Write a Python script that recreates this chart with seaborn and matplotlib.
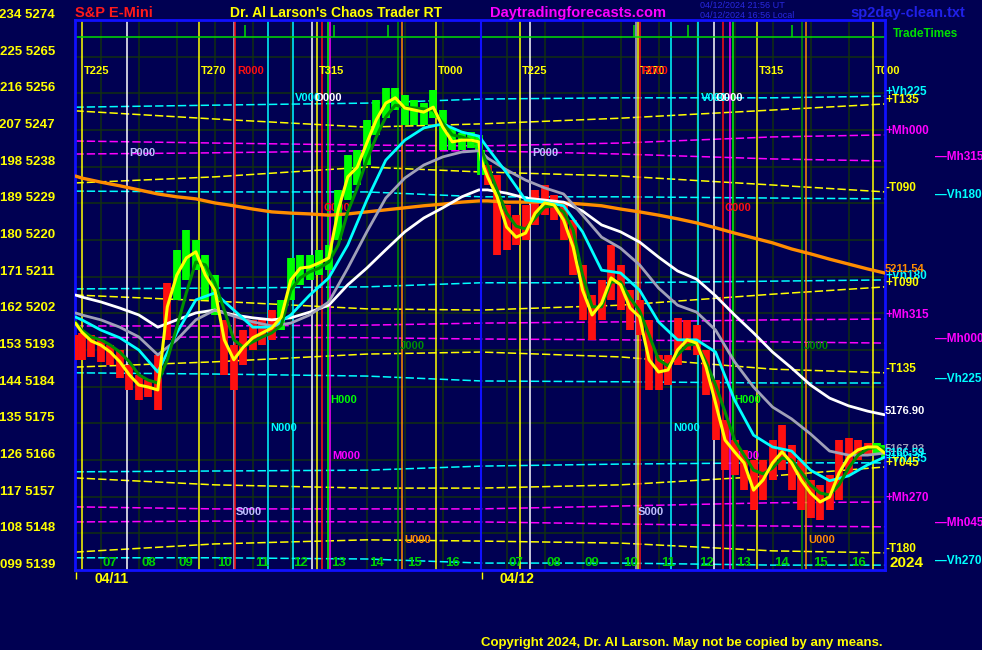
import matplotlib
matplotlib.use("Agg")
import matplotlib.pyplot as plt
import matplotlib.transforms as mtransforms
import pandas as pd
import seaborn as sns

# ---------------------------------------------------------------- time axis
# x = hour of day; the 04/12 session is shifted right by one session width
day_shift = 10.68
x_left = 6.32
x_right = 6.32 + 21.32

bar_hours = [6.33] + [6.5 + 0.25 * k for k in range(42)] + [16.95]
ma_hours = [6.33, 6.5] + [7.0 + 0.5 * k for k in range(20)] + [16.95]
level_hours_d1 = [6.33, 10.0, 14.0]
level_hours_d2 = [6.33, 10.0, 14.0, 16.97]
grid_hours = [7, 8, 9, 10, 11, 12, 13, 14, 15, 16]
hour_labels = ["07", "08", "09", "10", "11", "12", "13", "14", "15", "16"]
date_labels = ["04/11", "04/12"]

# ---------------------------------------------------------------- price data
fast_d1 = [5199.6, 5197.4, 5195.2, 5194.2, 5192.5, 5190.1, 5186.9, 5184.4, 5183.9, 5183.2,
           5203.6, 5211.4, 5215.6, 5217.1, 5211.4, 5207.7, 5195.5, 5190.6, 5193.7, 5196.0,
           5197.2, 5198.4, 5201.1, 5210.2, 5213.1, 5213.4, 5214.4, 5215.6, 5227.4, 5235.5,
           5237.9, 5243.8, 5249.5, 5253.6, 5254.9, 5252.4, 5251.9, 5251.4, 5252.6, 5247.7,
           5244.1, 5244.5, 5244.5, 5244.1]
fast_d2 = [5239.6, 5235.5, 5230.6, 5223.2, 5220.7, 5221.7, 5226.6, 5229.1, 5228.6, 5224.9,
           5218.3, 5207.7, 5201.6, 5204.5, 5210.7, 5209.0, 5203.3, 5201.1, 5190.6, 5187.6,
           5188.1, 5193.0, 5195.5, 5194.7, 5188.8, 5180.0, 5170.9, 5168.0, 5165.3, 5158.6,
           5161.1, 5165.3, 5168.0, 5165.3, 5161.1, 5157.9, 5155.7, 5156.9, 5162.8, 5166.7,
           5168.5, 5169.2, 5169.2, 5167.7]
slow_d1 = [5199.9, 5197.9, 5196.2, 5195.5, 5194.2, 5192.5, 5190.1, 5186.9, 5185.6, 5184.9,
           5190.6, 5198.6, 5207.0, 5214.6, 5213.9, 5209.5, 5202.8, 5195.5, 5193.7, 5195.0,
           5196.2, 5197.2, 5199.1, 5207.7, 5210.7, 5212.2, 5213.1, 5214.6, 5218.8, 5226.9,
           5232.8, 5239.6, 5245.3, 5250.2, 5253.1, 5252.6, 5252.4, 5252.2, 5251.9, 5248.7,
           5245.8, 5245.3, 5244.5, 5244.1]
slow_d2 = [5242.1, 5238.4, 5232.3, 5226.6, 5223.4, 5222.7, 5225.4, 5228.1, 5228.4, 5226.9,
           5222.5, 5211.4, 5203.6, 5203.6, 5209.7, 5209.7, 5205.8, 5202.6, 5196.7, 5190.6,
           5189.1, 5191.8, 5194.2, 5194.5, 5190.1, 5184.4, 5177.8, 5170.9, 5167.2, 5163.5,
           5162.6, 5164.0, 5166.5, 5166.0, 5163.1, 5159.9, 5157.9, 5157.4, 5159.9, 5164.0,
           5167.2, 5168.7, 5169.2, 5168.5]
high_d1 = [5196.7, 5197.2, 5196.7, 5195.5, 5194.2, 5193.0, 5189.3, 5186.9, 5185.6, 5191.8,
           5209.5, 5217.6, 5222.5, 5220.0, 5216.3, 5211.4, 5200.4, 5194.2, 5197.9, 5200.4,
           5200.9, 5202.8, 5205.3, 5215.6, 5216.3, 5216.3, 5217.6, 5218.8, 5232.3, 5240.9,
           5242.1, 5249.5, 5254.4, 5257.3, 5257.3, 5255.6, 5254.4, 5253.6, 5256.8, 5251.9,
           5247.5, 5246.3, 5246.5, 5245.8]
low_d1 = [5190.6, 5190.6, 5191.3, 5190.1, 5189.3, 5186.1, 5183.2, 5180.7, 5181.5, 5178.3,
          5195.5, 5205.3, 5210.2, 5212.6, 5205.3, 5201.6, 5186.9, 5183.2, 5189.3, 5193.0,
          5194.2, 5195.5, 5197.9, 5205.3, 5209.0, 5210.2, 5211.4, 5212.6, 5220.0, 5229.8,
          5233.5, 5238.4, 5245.8, 5250.0, 5251.9, 5248.2, 5248.2, 5248.2, 5250.0, 5242.1,
          5242.1, 5242.1, 5242.6, 5242.1]
high_d2 = [5242.1, 5238.4, 5236.0, 5228.6, 5226.1, 5228.6, 5232.3, 5233.5, 5231.1, 5228.6,
           5224.9, 5213.9, 5206.5, 5210.2, 5218.8, 5213.9, 5207.7, 5205.3, 5200.4, 5191.8,
           5191.8, 5200.9, 5200.4, 5199.1, 5193.0, 5185.6, 5175.8, 5170.9, 5168.5, 5166.0,
           5166.0, 5170.9, 5174.6, 5169.7, 5166.0, 5161.1, 5159.9, 5162.3, 5170.9, 5171.4,
           5170.9, 5170.2, 5170.2, 5169.7]
low_d2 = [5236.0, 5233.5, 5216.3, 5217.6, 5218.8, 5220.0, 5223.7, 5226.1, 5224.9, 5220.0,
          5211.4, 5200.4, 5195.5, 5200.4, 5205.3, 5202.8, 5197.9, 5196.7, 5183.2, 5183.2,
          5184.4, 5189.3, 5193.0, 5191.8, 5182.0, 5170.9, 5163.5, 5162.3, 5158.6, 5153.7,
          5156.2, 5161.1, 5163.5, 5158.6, 5153.7, 5151.8, 5151.3, 5153.7, 5156.2, 5162.3,
          5166.0, 5167.2, 5167.7, 5166.5]
# bar state: g = up (green), r = down (red)
bar_state_d1 = "rrrrrrrrrrrgggggrrrrrrgggggggggggggggggggggg"
bar_state_d2 = "grrrrrrrrrrrrrrrrrrrrrrrrrrrrrrrrrrrrrrrrrgg"

cyan_d1 = [5201.1, 5200.4, 5197.9, 5196.0, 5193.0, 5187.6, 5197.2, 5205.3, 5207.0, 5202.8, 5198.6,
           5198.6, 5201.6, 5206.5, 5210.7, 5218.8, 5229.8, 5239.6, 5244.5, 5247.5, 5248.5, 5246.5, 5245.5]
cyan_d2 = [5244.8, 5242.6, 5236.5, 5229.8, 5229.3, 5228.4, 5222.0, 5212.6, 5211.9, 5207.7, 5199.9,
           5195.5, 5195.5, 5192.5, 5180.7, 5172.1, 5169.2, 5168.2, 5163.5, 5160.9, 5162.1, 5164.8, 5166.7]
gray_d1 = [5202.1, 5201.6, 5200.4, 5198.6, 5196.2, 5191.8, 5195.5, 5200.4, 5202.8, 5201.3, 5199.9,
           5198.9, 5199.6, 5201.6, 5204.8, 5213.1, 5222.0, 5230.3, 5235.2, 5238.4, 5240.4, 5241.6, 5241.9]
gray_d2 = [5241.6, 5240.1, 5237.2, 5234.7, 5232.8, 5231.3, 5226.1, 5220.7, 5218.0, 5213.9, 5208.2,
           5204.0, 5202.3, 5197.9, 5190.1, 5183.9, 5179.0, 5176.1, 5172.4, 5168.2, 5167.2, 5167.2, 5167.7]
white_d1 = [5206.5, 5206.0, 5204.8, 5203.3, 5201.6, 5198.6, 5200.4, 5202.1, 5202.8, 5201.6, 5200.9,
            5200.4, 5200.9, 5202.3, 5204.0, 5209.0, 5213.1, 5217.6, 5222.0, 5225.4, 5227.9, 5230.6, 5232.3]
white_d2 = [5232.3, 5232.3, 5231.5, 5230.3, 5229.8, 5229.3, 5227.1, 5223.7, 5222.0, 5219.5, 5215.8,
            5212.4, 5210.4, 5206.3, 5201.6, 5197.2, 5192.5, 5188.6, 5184.4, 5181.2, 5179.3, 5178.0, 5177.1]
orange_d1 = [5235.7, 5235.2, 5234.2, 5233.3, 5232.3, 5231.3, 5230.6, 5230.1, 5229.1, 5228.4, 5227.6,
             5226.9, 5226.6, 5226.4, 5226.1, 5226.4, 5226.9, 5227.4, 5227.9, 5228.4, 5228.8, 5229.3, 5229.6]
orange_d2 = [5229.6, 5229.6, 5229.3, 5229.3, 5229.3, 5229.1, 5228.8, 5228.4, 5227.6, 5226.9, 5226.1,
             5225.2, 5224.2, 5223.0, 5221.7, 5220.5, 5219.3, 5217.8, 5216.6, 5215.3, 5214.1, 5212.9, 5211.9]
ma_end_labels = {"orange": "5211.54", "white": "5176.90", "gray": "5167.93", "cyan": "5166.59"}

# ---------------------------------------------------------------- harmonic levels (7 nodes)
vh225_p = [5252.6, 5253.1, 5253.6, 5254.6, 5254.9, 5254.9, 5255.3]
vh180_m = [5232.0, 5231.8, 5231.8, 5230.6, 5230.6, 5230.3, 5230.1]
vh180_p = [5208.0, 5208.2, 5208.5, 5209.5, 5209.5, 5209.9, 5210.2]
vh225_m = [5187.4, 5187.1, 5186.6, 5185.4, 5185.2, 5184.9, 5184.9]
vh135_p = [5163.1, 5163.3, 5163.5, 5164.5, 5165.0, 5165.3, 5165.3]
vh270_m = [5142.0, 5142.0, 5141.7, 5140.7, 5140.7, 5140.2, 5140.2]
t135_p = [5251.7, 5249.7, 5247.7, 5248.5, 5249.9, 5251.9, 5253.4]
t090_m = [5234.0, 5235.5, 5237.9, 5236.7, 5235.7, 5233.5, 5231.8]
t090_p = [5206.5, 5205.0, 5203.1, 5202.8, 5204.0, 5206.7, 5208.5]
t135_m = [5188.8, 5190.1, 5192.0, 5192.5, 5191.3, 5188.3, 5187.4]
t045_p = [5161.6, 5159.9, 5159.1, 5159.1, 5159.9, 5162.1, 5164.3]
t180_m = [5143.4, 5145.4, 5146.4, 5146.1, 5145.6, 5143.7, 5143.2]
mh000_p = [5244.3, 5243.8, 5243.3, 5243.1, 5243.8, 5245.3, 5245.8]
mh315_m = [5241.1, 5241.4, 5241.9, 5241.9, 5241.1, 5239.9, 5239.4]
mh315_p = [5198.9, 5198.9, 5199.1, 5199.6, 5199.9, 5200.4, 5200.6]
mh000_m = [5196.0, 5196.2, 5196.0, 5195.7, 5195.5, 5195.0, 5194.7]
mh270_p = [5154.5, 5154.0, 5154.0, 5154.0, 5154.7, 5155.5, 5155.7]
mh045_m = [5150.8, 5151.0, 5150.8, 5150.8, 5150.3, 5149.8, 5149.6]

# ---------------------------------------------------------------- timing events
event_names_d1 = ["T225", "P000", "T270", "S000", "R000", "N000", "V000", "O000",
                  "T315", "C000", "H000", "M000", "J000", "U000", "T000"]
event_hours_d1 = [6.50, 7.69, 9.58, 10.51, 10.53, 11.40, 12.06, 12.56,
                  12.69, 12.82, 12.98, 13.03, 14.82, 14.93, 15.82]
event_names_d2 = ["T225", "P000", "S000", "T270", "R000", "N000", "V000", "O000",
                  "C000", "M000", "H000", "T315", "J000", "U000", "T000"]
event_hours_d2 = [7.34, 7.61, 10.40, 10.45, 10.50, 11.34, 12.05, 12.45,
                  12.69, 12.87, 12.95, 13.58, 14.77, 14.88, 16.64]
trade_hours_d1 = [10.79, 13.14, 14.56]
trade_hours_d2 = [10.35, 11.77, 14.51]
trade_line_price = 5269.8

ytick_prices = [5139, 5148, 5157, 5166, 5175, 5184, 5193, 5202, 5211, 5220, 5229, 5238, 5247, 5256, 5265, 5274]
ytick_degrees = ["099", "108", "117", "126", "135", "144", "153", "162", "171", "180", "189", "198", "207", "216", "225", "234"]

# ---------------------------------------------------------------- style
BG = "#000052"
GRID = "#123012"
BLUE = "#1010ff"
YEL = "#ffff00"
CYAN = "#00ffff"
MAG = "#ff00ff"
RED = "#ff1010"
GREEN = "#00ff00"
DKGREEN = "#009000"
ORANGE = "#ff8c00"
WHITE = "#ffffff"
GRAY = "#a0a0b8"
LAV = "#c0c0ff"

event_line_color = {"T": YEL, "P": WHITE, "S": "#b0b0d0", "R": RED, "N": CYAN, "V": CYAN,
                    "O": WHITE, "C": RED, "H": GREEN, "M": MAG, "J": DKGREEN, "U": ORANGE}
event_text_color = dict(event_line_color, P=LAV, S=LAV)
event_text_y = {"T": 0.907, "R": 0.907, "V": 0.858, "O": 0.858, "P": 0.758, "C": 0.658,
                "J": 0.407, "H": 0.309, "N": 0.258, "M": 0.207, "S": 0.105, "U": 0.055}

sns.set_style("dark", {"axes.facecolor": BG, "figure.facecolor": BG})
plt.rcParams["font.family"] = ["Liberation Sans", "DejaVu Sans"]
plt.rcParams["lines.scale_dashes"] = False

fig = plt.figure(figsize=(9.82, 6.5), dpi=100)
fig.patch.set_facecolor(BG)
ax = fig.add_axes([75 / 982, 80 / 650, 810 / 982, 550 / 650])
ax.set_facecolor(BG)
ax.set_xlim(x_left, x_right)
ax.set_ylim(5139, 5274)

# grid, ticks, frame
grid_x = grid_hours + [h + day_shift for h in grid_hours]
ax.set_xticks(grid_x)
ax.set_yticks(ytick_prices)
ax.grid(True, color=GRID, lw=1.1, zorder=0)
ax.set_axisbelow(True)
ax.tick_params(axis="x", length=7, width=1, color=GRID, labelbottom=False)
ax.tick_params(axis="y", length=4, width=1, color="#00a000", labelleft=False)
for side, spine in ax.spines.items():
    spine.set_color(BLUE)
    spine.set_linewidth(2.0)
    spine.set_visible(True)
ax.axvline(x_left + day_shift, color=BLUE, lw=1.5, zorder=5)

# day start ticks below the axis
xt = ax.get_xaxis_transform()
ax.vlines([x_left + 0.03, x_left + day_shift + 0.03], -0.016, -0.004, transform=xt,
          color=YEL, lw=1, clip_on=False)

# y labels: degree and price
for p, d in zip(ytick_prices, ytick_degrees):
    ax.text(-0.0247, p, f"{d} {p}", transform=mtransforms.offset_copy(
        mtransforms.blended_transform_factory(ax.transAxes, ax.transData), fig, y=5, units="dots"),
        ha="right", va="center", color=YEL, fontsize=9.5, weight="bold")

# harmonic levels
level_x = level_hours_d1 + [h + day_shift for h in level_hours_d2]
levels = [("+Vh225", vh225_p, CYAN), ("—Vh180", vh180_m, CYAN), ("+Vh180", vh180_p, CYAN),
          ("—Vh225", vh225_m, CYAN), ("+Vh135", vh135_p, CYAN), ("—Vh270", vh270_m, CYAN),
          ("+T135", t135_p, YEL), ("-T090", t090_m, YEL), ("+T090", t090_p, YEL),
          ("-T135", t135_m, YEL), ("+T045", t045_p, YEL), ("-T180", t180_m, YEL),
          ("+Mh000", mh000_p, MAG), ("—Mh315", mh315_m, MAG), ("+Mh315", mh315_p, MAG),
          ("—Mh000", mh000_m, MAG), ("+Mh270", mh270_p, MAG), ("—Mh045", mh045_m, MAG)]
right_tr = mtransforms.offset_copy(
    mtransforms.blended_transform_factory(ax.transAxes, ax.transData), fig, y=4, units="dots")
for name, vals, col in levels:
    sns.lineplot(x=level_x, y=vals, ax=ax, color=col, lw=1.1, sort=False, estimator=None,
                 legend=False, zorder=1)
    ax.lines[-1].set_dashes((6, 2.2))
    xpos = 1.062 if name.startswith("—") else 1.0
    ax.text(xpos, vals[-1], name, transform=right_tr, ha="left", va="center",
            color=col, fontsize=8.5, weight="bold")

# timing event lines and their labels
lab_tr = mtransforms.offset_copy(xt, fig, x=2, units="dots")
for names, hours, shift in [(event_names_d1, event_hours_d1, 0.0),
                            (event_names_d2, event_hours_d2, day_shift)]:
    for nm, h in zip(names, hours):
        k = nm[0]
        ax.axvline(h + shift, color=event_line_color[k], lw=1.1,
                   zorder=1.5 if k != "U" else 1.6)
        ax.text(h + shift, event_text_y[k], nm, transform=lab_tr, ha="left", va="center",
                color=event_text_color[k], fontsize=8, weight="bold", zorder=2)

# trade times row
ax.axhline(trade_line_price, color="#00dd00", lw=1.1, zorder=2)
trade_x = trade_hours_d1 + [h + day_shift for h in trade_hours_d2]
ax.vlines(trade_x, trade_line_price, trade_line_price + 3.0, color="#00dd00", lw=1.1, zorder=2)

# hour labels
for h, lab in zip(grid_x, hour_labels + hour_labels):
    ax.text(h + 0.25, 0.013, lab, transform=xt, ha="center", va="center",
            color="#00d000", fontsize=9.5, weight="bold", zorder=6)

# price bars
bar_x = bar_hours + [h + day_shift for h in bar_hours]
bars = pd.DataFrame({"x": bar_x, "high": high_d1 + high_d2, "low": low_d1 + low_d2,
                     "state": list(bar_state_d1 + bar_state_d2)})
for st, col in [("r", RED), ("g", GREEN)]:
    b = bars[bars["state"] == st]
    ax.vlines(b["x"], b["low"], b["high"], color=col, lw=5.6, zorder=3)

# moving averages
ma_x = ma_hours + [h + day_shift for h in ma_hours]
ma = pd.DataFrame({"x": ma_x, "orange": orange_d1 + orange_d2, "white": white_d1 + white_d2,
                   "gray": gray_d1 + gray_d2, "cyan": cyan_d1 + cyan_d2})
ma_style = {"orange": (ORANGE, 2.4), "white": (WHITE, 2.0), "gray": (GRAY, 2.0), "cyan": (CYAN, 2.0)}
for key, (col, lw) in ma_style.items():
    sns.lineplot(data=ma, x="x", y=key, ax=ax, color=col, lw=lw, sort=False, estimator=None,
                 legend=False, zorder=3.5)
    ax.text(1.0, ma[key].iloc[-1], ma_end_labels[key], transform=right_tr, ha="left",
            va="center", color=col, fontsize=8, weight="bold")

fast = pd.DataFrame({"x": bar_x, "slow": slow_d1 + slow_d2, "fast": fast_d1 + fast_d2})
sns.lineplot(data=fast, x="x", y="slow", ax=ax, color=DKGREEN, lw=2.2, sort=False,
             estimator=None, legend=False, zorder=4)
sns.lineplot(data=fast, x="x", y="fast", ax=ax, color=YEL, lw=2.2, sort=False,
             estimator=None, legend=False, zorder=4.5)
ax.set_xlabel("")
ax.set_ylabel("")

# date labels under the axis
for h, lab in zip([7.29, 7.27 + day_shift], date_labels):
    ax.text(h, -0.0164, lab, transform=xt, ha="center", va="center", color=YEL,
            fontsize=10, weight="bold", clip_on=False)

# header and footer texts
def ftext(px, py, s, **kw):
    fig.text(px / 982, 1 - py / 650, s, va="center", **kw)

ftext(75, 13, "S&P E-Mini", color="#ff1a1a", fontsize=10.5, weight="bold")
ftext(230, 13, "Dr. Al Larson's Chaos Trader RT", color=YEL, fontsize=10, weight="bold")
ftext(490, 13, "Daytradingforecasts.com", color=MAG, fontsize=10.5, weight="bold")
ftext(700, 6, "04/12/2024 21:56 UT", color="#2828e0", fontsize=6.5)
ftext(700, 16, "04/12/2024 16:56 Local", color="#2828e0", fontsize=6.5)
ftext(850, 13, "sp2day-clean.txt", color="#2020e8", fontsize=10.5, weight="bold")
ftext(893, 34, "TradeTimes", color="#00e000", fontsize=8.5, weight="bold")
ftext(889, 563, "2024", color=YEL, fontsize=11, weight="bold")
ftext(481, 643, "Copyright 2024, Dr. Al Larson. May not be copied by any means.",
      color=YEL, fontsize=9.5, weight="bold")

fig.savefig("out.png", dpi=100, facecolor=BG)
